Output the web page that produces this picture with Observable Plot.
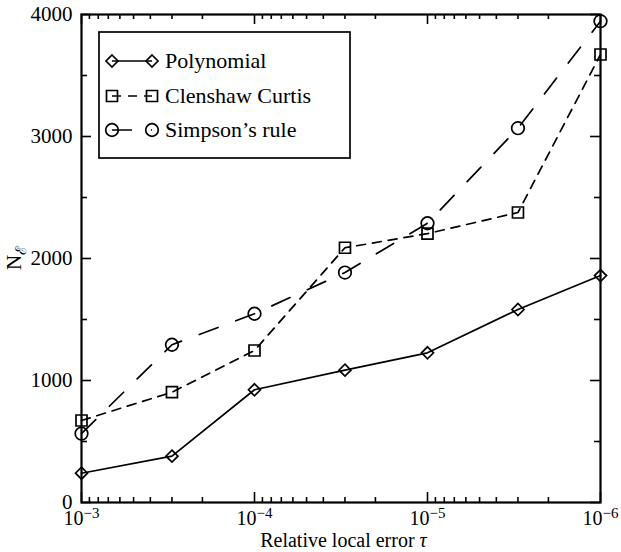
<!DOCTYPE html>
<html>
<head>
<meta charset="utf-8">
<script src="https://cdn.jsdelivr.net/npm/d3@7"></script>
<script src="https://cdn.jsdelivr.net/npm/@observablehq/plot@0.6"></script>
<style>
  html, body { margin: 0; padding: 0; background: white; }
</style>
</head>
<body>
<div id="chart"></div>
<script>
// ---- data ----
const tau = [1e-3, 3e-4, 1e-4, 3e-5, 1e-5, 3e-6, 1e-6];
const polynomial = [240, 380, 924, 1085, 1227, 1582, 1860];
const clenshawCurtis = [672, 904, 1246, 2088, 2204, 2377, 3672];
const simpsonsRule = [565, 1293, 1547, 1885, 2289, 3068, 3945];

const seriesNames = ["Polynomial", "Clenshaw Curtis", "Simpson’s rule"];
const xMajorTicks = [1e-3, 1e-4, 1e-5, 1e-6];
const xTickExponents = ["−3", "−4", "−5", "−6"];
const yMajorTicks = [0, 1000, 2000, 3000, 4000];
const yMinorTicks = [500, 1500, 2500, 3500];
const xMinorTicks = d3.scaleLog().domain([1e-6, 1e-3]).ticks().filter(t => !xMajorTicks.some(m => Math.abs(m - t) / m < 1e-9));

const styles = [
  {symbol: "diamond2", r: 5.4, dash: null},
  {symbol: "square2", r: 7.0, dash: "9,7"},
  {symbol: "circle", r: 6.3, dash: "20,19"}
];
const seriesValues = [polynomial, clenshawCurtis, simpsonsRule];

const rows = [];
seriesValues.forEach((vals, i) => vals.forEach((v, j) => rows.push({series: seriesNames[i], tau: tau[j], n: v})));

const W = 621, H = 552, mL = 81, mR = 21, mT = 14, mB = 50;
const pw = W - mL - mR, ph = H - mT - mB;
const lw = 1.7;

const marks = [];
seriesNames.forEach((name, i) => {
  const data = rows.filter(d => d.series === name);
  marks.push(Plot.line(data, {x: "tau", y: "n", stroke: "black", strokeWidth: lw, strokeDasharray: styles[i].dash}));
});
seriesNames.forEach((name, i) => {
  const data = rows.filter(d => d.series === name);
  marks.push(Plot.dot(data, {x: "tau", y: "n", symbol: styles[i].symbol, r: styles[i].r, stroke: "black", strokeWidth: lw, fill: "none"}));
});

const chart = Plot.plot({
  width: W, height: H,
  marginLeft: mL, marginRight: mR, marginTop: mT, marginBottom: mB,
  style: {fontFamily: "'Liberation Serif', 'Times New Roman', serif", fontSize: "21px", background: "white", color: "black"},
  x: {type: "log", domain: [1e-3, 1e-6]},
  y: {domain: [0, 4000]},
  marks: [
    // ticks (inward, mirrored)
    Plot.tickX(xMajorTicks, {x: d => d, insetTop: ph - 10, stroke: "black", strokeWidth: 1.6}),
    Plot.tickX(xMajorTicks, {x: d => d, insetBottom: ph - 10, stroke: "black", strokeWidth: 1.6}),
    Plot.tickX(xMinorTicks, {x: d => d, insetTop: ph - 5, stroke: "black", strokeWidth: 1.6}),
    Plot.tickX(xMinorTicks, {x: d => d, insetBottom: ph - 5, stroke: "black", strokeWidth: 1.6}),
    Plot.tickY(yMajorTicks, {y: d => d, insetRight: pw - 10, stroke: "black", strokeWidth: 1.6}),
    Plot.tickY(yMajorTicks, {y: d => d, insetLeft: pw - 10, stroke: "black", strokeWidth: 1.6}),
    Plot.tickY(yMinorTicks, {y: d => d, insetRight: pw - 6, stroke: "black", strokeWidth: 1.6}),
    Plot.tickY(yMinorTicks, {y: d => d, insetLeft: pw - 6, stroke: "black", strokeWidth: 1.6}),
    Plot.axisY({ticks: yMajorTicks, tickSize: 0, tickPadding: 9, label: null, fontSize: 21, tickFormat: d3.format("d")}),
    Plot.axisX({ticks: xMajorTicks, tickSize: 0, tickPadding: 8, label: null, fontSize: 20,
      tickFormat: d => xTickExponents[xMajorTicks.findIndex(m => Math.abs(m - d) / m < 1e-9)]}),
    ...marks,
    Plot.frame({stroke: "black", strokeWidth: 2.2})
  ]
});

document.getElementById("chart").appendChild(chart);
const svg = d3.select(chart);

// superscript x tick labels: 10^exp
svg.selectAll('g[aria-label="x-axis tick label"] text').each(function() {
  const t = d3.select(this);
  const exp = t.text();
  t.text(null);
  t.append("tspan").text("10");
  t.append("tspan").attr("dy", "-0.45em").attr("font-size", "15px").text(exp);
});

// axis titles
const ff = "'Liberation Serif', 'Times New Roman', serif";
const xl = svg.append("text")
  .attr("x", mL + pw / 2 + 3).attr("y", 547)
  .attr("text-anchor", "middle").attr("font-family", ff).attr("font-size", 20).attr("fill", "black");
xl.append("tspan").text("Relative local error ");
xl.append("tspan").attr("font-style", "italic").text("τ");

const yl = svg.append("text")
  .attr("transform", `translate(21,${mT + ph / 2}) rotate(-90)`)
  .attr("text-anchor", "middle").attr("font-family", ff).attr("font-size", 21).attr("fill", "black");
yl.append("tspan").text("N");
yl.append("tspan").attr("dy", "0.3em").attr("font-size", "15px").text("ℰ");

// legend
const lg = svg.append("g");
lg.append("rect").attr("x", 99).attr("y", 32).attr("width", 251).attr("height", 126)
  .attr("fill", "white").attr("stroke", "black").attr("stroke-width", 1.7);
const rowY = [61, 96, 130];
seriesNames.forEach((name, i) => {
  const y = rowY[i];
  lg.append("line").attr("x1", 112).attr("x2", 152).attr("y1", y).attr("y2", y)
    .attr("stroke", "black").attr("stroke-width", lw)
    .attr("stroke-dasharray", styles[i].dash);
  [112, 152].forEach(x => {
    if (styles[i].symbol === "circle") {
      lg.append("circle").attr("cx", x).attr("cy", y).attr("r", styles[i].r)
        .attr("fill", "none").attr("stroke", "black").attr("stroke-width", lw);
    } else {
      const sym = styles[i].symbol === "diamond2" ? d3.symbolDiamond2 : d3.symbolSquare2;
      lg.append("path").attr("transform", `translate(${x},${y})`)
        .attr("d", d3.symbol(sym, Math.PI * styles[i].r * styles[i].r)())
        .attr("fill", "none").attr("stroke", "black").attr("stroke-width", lw);
    }
  });
  lg.append("text").attr("x", 165).attr("y", y + 7).attr("text-anchor", "start")
    .attr("font-family", ff).attr("font-size", 22)
    .attr("fill", "black").text(name);
});
</script>
</body>
</html>
